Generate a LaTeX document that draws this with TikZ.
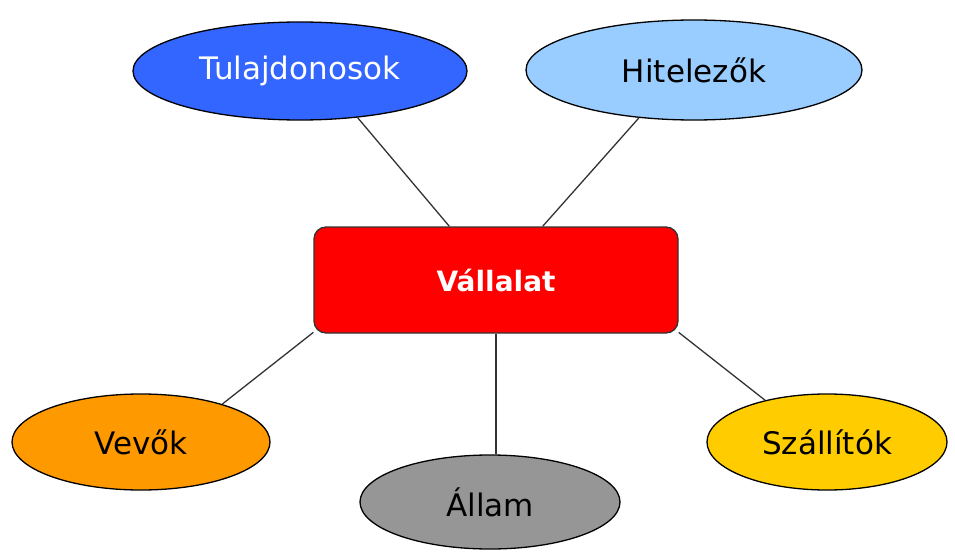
\documentclass[tikz,border=0pt]{standalone}
\usepackage{fontspec}
\setmainfont{DejaVu Sans}
\usetikzlibrary{shapes.geometric}

\definecolor{tulajblue}{RGB}{51,102,255}
\definecolor{hitelblue}{RGB}{153,204,255}
\definecolor{vallred}{RGB}{255,0,0}
\definecolor{vevoorange}{RGB}{255,153,0}
\definecolor{allamgray}{RGB}{150,150,150}
\definecolor{szallyellow}{RGB}{255,204,0}

\begin{document}
\begin{tikzpicture}[
	x=1pt, y=-1pt,
	party/.style={
		ellipse,
		draw=black,
		line width=1.3pt,
		inner sep=0pt,
		font=\fontsize{31}{36}\selectfont
	},
	firm/.style={
		rectangle,
		rounded corners=12pt,
		draw=black!80,
		line width=1.3pt,
		fill=vallred,
		text=white,
		minimum width=364pt,
		minimum height=106pt,
		font=\fontsize{28}{33}\selectfont\bfseries
	},
	Link/.style={% plain grey connectors
		draw=black!80,
		line width=1.3pt,
	},
]
	\useasboundingbox (0,0) rectangle (955,556);

	\node [firm] (vall) at (496,280) {Vállalat};

	\node [party, fill=tulajblue, text=white, minimum width=334pt, minimum height=98pt] (tul) at (300,71) {Tulajdonosok};
	\node [party, fill=hitelblue, minimum width=336pt, minimum height=100pt] (hit) at (694,70) {Hitelezők};

	\node [party, fill=vevoorange, minimum width=258pt, minimum height=96pt] (vevo) at (141,442) {Vevők};
	\node [party, fill=allamgray, minimum width=260pt, minimum height=94pt] (allam) at (490,502) {Állam};
	\node [party, fill=szallyellow, minimum width=240pt, minimum height=96pt] (szall) at (827,442) {Szállítók};

	\draw [Link] (tul.-39) -- (vall.131.6);
	\draw [Link] (hit.221) -- (vall.49.7);
	\draw [Link] (vevo.25.7) -- (vall.196);
	\draw [Link] (vall.south) -- (vall.south |- allam.north);
	\draw [Link] (szall.146.7) -- (vall.-16);
\end{tikzpicture}
\end{document}
